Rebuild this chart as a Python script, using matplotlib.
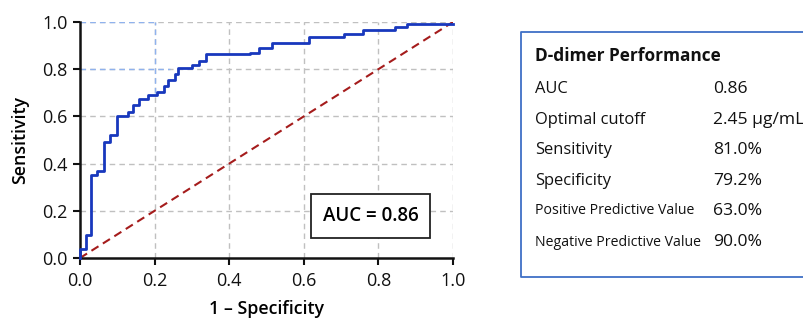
import matplotlib
matplotlib.use("Agg")
import matplotlib.pyplot as plt
from matplotlib.lines import Line2D

plt.rcParams['font.family'] = ['Open Sans', 'DejaVu Sans']

# ROC curve: false positive rate where each step occurs, and sensitivity after it
fpr = [0.0, 0.0, 0.016, 0.030, 0.045, 0.064, 0.080, 0.098, 0.130, 0.143, 0.157,
       0.183, 0.206, 0.224, 0.237, 0.255, 0.264, 0.300, 0.318, 0.338, 0.456,
       0.479, 0.514, 0.613, 0.707, 0.760, 0.845, 0.877, 1.0]
tpr = [0.0, 0.04, 0.096, 0.35, 0.37, 0.49, 0.52, 0.60, 0.62, 0.65, 0.675,
       0.69, 0.703, 0.727, 0.753, 0.778, 0.805, 0.816, 0.835, 0.863, 0.869,
       0.89, 0.911, 0.936, 0.95, 0.968, 0.979, 0.993, 0.993]

ticks = [0.0, 0.2, 0.4, 0.6, 0.8, 1.0]
tick_labels = ["0.0", "0.2", "0.4", "0.6", "0.8", "1.0"]

auc_text = "AUC = 0.86"
cut_fpr = 0.2
cut_tpr = 0.8

table_title = "D-dimer Performance"
metric_names = ["AUC", "Optimal cutoff", "Sensitivity", "Specificity",
                "Positive Predictive Value", "Negative Predictive Value"]
metric_values = ["0.86", "2.45 \u03bcg/mL", "81.0%", "79.2%", "63.0%", "90.0%"]

fig = plt.figure(figsize=(8.04, 3.2), dpi=100)
ax = fig.add_axes([0.0995, 0.19375, 0.4639, 0.7375])

ax.set_xlim(0, 1)
ax.set_ylim(0, 1)

# grid
for t in ticks[1:]:
    ax.axvline(t, color='#c0c0c0', lw=1.0, ls=(0, (4, 3)), zorder=0)
    ax.axhline(t, color='#c0c0c0', lw=1.0, ls=(0, (4, 3)), zorder=0)

# cutoff highlight lines
ax.plot([cut_fpr, cut_fpr], [0.7, 1.0], color='#8fb2ee', lw=1.0, ls=(0, (4, 3)), zorder=1)
ax.plot([0, 0.24], [cut_tpr, cut_tpr], color='#8fb2ee', lw=1.0, ls=(0, (4, 3)), zorder=1)
ax.plot([0, cut_fpr], [1.0, 1.0], color='#8fb2ee', lw=1.0, ls=(0, (4, 3)), zorder=1)

# diagonal
ax.plot([0, 1], [0, 1], color='#a51c1c', lw=1.5, ls=(0, (4, 2.5)), zorder=2)

# ROC
ax.plot(fpr, tpr, drawstyle='steps-post', color='#1838bd', lw=2.0, zorder=3,
        clip_on=False)

for s in ['top', 'right']:
    ax.spines[s].set_visible(False)
for s in ['left', 'bottom']:
    ax.spines[s].set_linewidth(1.8)
    ax.spines[s].set_color('#111111')

ax.set_xticks(ticks)
ax.set_xticklabels(tick_labels)
ax.set_yticks(ticks)
ax.set_yticklabels(tick_labels)
ax.tick_params(axis='both', direction='out', length=5, width=1.5,
               labelsize=13, colors='#111111')
ax.tick_params(axis='x', pad=5)
ax.tick_params(axis='y', pad=4)

ax.set_xlabel("1 \u2013 Specificity", fontsize=12.8, fontweight='semibold', labelpad=7)
ax.set_ylabel("Sensitivity", fontsize=12.8, fontweight='semibold', labelpad=9)

ax.text(0.78, 0.178, auc_text, fontsize=13.5, fontweight='semibold',
        ha='center', va='center', zorder=5,
        bbox=dict(boxstyle='square,pad=0.62', facecolor='white',
                  edgecolor='#222222', linewidth=1.3))

# table panel border (left, top, bottom; right side runs off the image)
bx0 = 521 / 804
by0 = (320 - 277) / 320
by1 = (320 - 32) / 320
border_kw = dict(transform=fig.transFigure, color='#3f6fc6', linewidth=1.3)
fig.add_artist(Line2D([1.0, bx0, bx0, 1.0], [by1, by1, by0, by0], **border_kw))

x_name = 535 / 804
x_val = 713 / 804
fig.text(x_name, 1 - 56 / 320, table_title, fontsize=12.4, fontweight='bold',
         ha='left', va='center', color='#111111')
row_y = [89.3, 119.5, 150.5, 181, 211, 242]
for i, (n, v) in enumerate(zip(metric_names, metric_values)):
    fs = 11.9 if i < 4 else 10.2
    fig.text(x_name, 1 - row_y[i] / 320, n, fontsize=fs, ha='left', va='center',
             color='#111111')
    fig.text(x_val, 1 - row_y[i] / 320, v, fontsize=12.6, ha='left', va='center',
             color='#111111')

fig.savefig("out.png", dpi=100, facecolor='white')
